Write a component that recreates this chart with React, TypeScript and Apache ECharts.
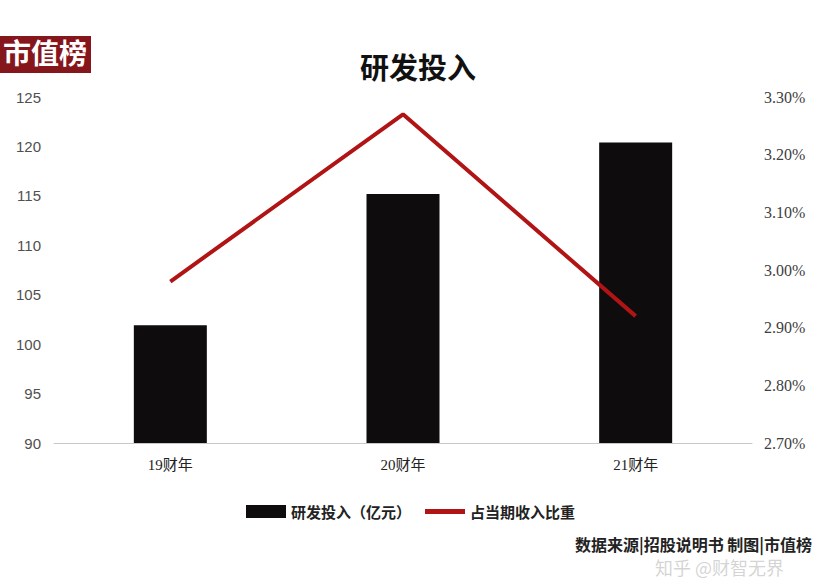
import React, { useEffect, useRef } from "react";
import * as echarts from "echarts";

const categories = ["19财年", "20财年", "21财年"];
const rdSpend = [101.9, 115.2, 120.4];
const rdRatio = [2.98, 3.27, 2.92];
const barName = "研发投入（亿元）";
const lineName = "占当期收入比重";
const titleText = "研发投入";
const logoText = "市值榜";
const sourceText = "数据来源|招股说明书 制图|市值榜";
const watermarkText = "知乎 @财智无界";

export default function App() {
  const ref = useRef<HTMLDivElement>(null);
  useEffect(() => {
    document.body.style.margin = "0";
    const chart = echarts.init(ref.current!, null, { renderer: "svg" });
    chart.setOption({
      animation: false,
      backgroundColor: "#ffffff",
      title: {
        text: titleText,
        left: 413,
        top: 46,
        textAlign: "center",
        textStyle: {
          fontSize: 29,
          fontWeight: "bold",
          color: "#111",
          fontFamily: "Noto Sans CJK SC",
        },
      },
      grid: { left: 54, right: 78, top: 97, bottom: 139, containLabel: false },
      legend: {
        left: 241,
        top: 499,
        itemWidth: 40,
        itemHeight: 13,
        itemGap: 14,
        symbolKeepAspect: true,
        textStyle: { fontSize: 15, color: "#222", fontFamily: "Noto Sans CJK SC", fontWeight: "bold" },
        data: [
          { name: barName, icon: "rect" },
          { name: lineName, icon: "path://M0,0H40V5H0Z" },
        ],
      },
      xAxis: {
        type: "category",
        data: categories,
        axisLine: { lineStyle: { color: "#c8c8c8", width: 1 } },
        axisTick: { show: false },
        axisLabel: {
          margin: 14,
          fontSize: 15,
          color: "#222",
          fontFamily: "Liberation Serif, Noto Sans CJK SC",
        },
      },
      yAxis: [
        {
          type: "value",
          min: 90,
          max: 125,
          interval: 5,
          axisLine: { show: false },
          axisTick: { show: false },
          splitLine: { show: false },
          axisLabel: { margin: 13, fontSize: 15, color: "#505050", fontFamily: "Liberation Sans" },
        },
        {
          type: "value",
          min: 2.7,
          max: 3.3,
          interval: 0.1,
          axisLine: { show: false },
          axisTick: { show: false },
          splitLine: { show: false },
          axisLabel: {
            margin: 12,
            fontSize: 16,
            color: "#404040",
            fontFamily: "Liberation Serif",
            formatter: (v: number) => v.toFixed(2) + "%",
          },
        },
      ],
      series: [
        {
          name: barName,
          type: "bar",
          data: rdSpend,
          barWidth: 73,
          itemStyle: { color: "#0e0c0d" },
        },
        {
          name: lineName,
          type: "line",
          yAxisIndex: 1,
          data: rdRatio,
          symbol: "none",
          lineStyle: { color: "#b01414", width: 4 },
          itemStyle: { color: "#b01414" },
        },
      ],
      graphic: [
        {
          type: "rect",
          left: 0,
          top: 36,
          shape: { width: 91, height: 37 },
          style: { fill: "#85161b" },
        },
        {
          type: "text",
          left: 3,
          top: 38,
          style: {
            text: logoText,
            fill: "#ffffff",
            font: "bold 28px 'Noto Sans CJK SC'",
          },
        },
        {
          type: "text",
          right: 18,
          top: 536,
          style: {
            text: sourceText,
            fill: "#222",
            font: "bold 16px 'Noto Sans CJK SC'",
          },
        },
        {
          type: "text",
          left: 655,
          top: 558,
          style: {
            text: watermarkText,
            fill: "rgba(170,170,170,0.5)",
            font: "18px 'Noto Sans CJK SC'",
          },
        },
      ],
    });
    return () => chart.dispose();
  }, []);
  return (
    <div
      ref={ref}
      style={{ position: "fixed", left: 0, top: 0, width: 830, height: 582 }}
    />
  );
}
